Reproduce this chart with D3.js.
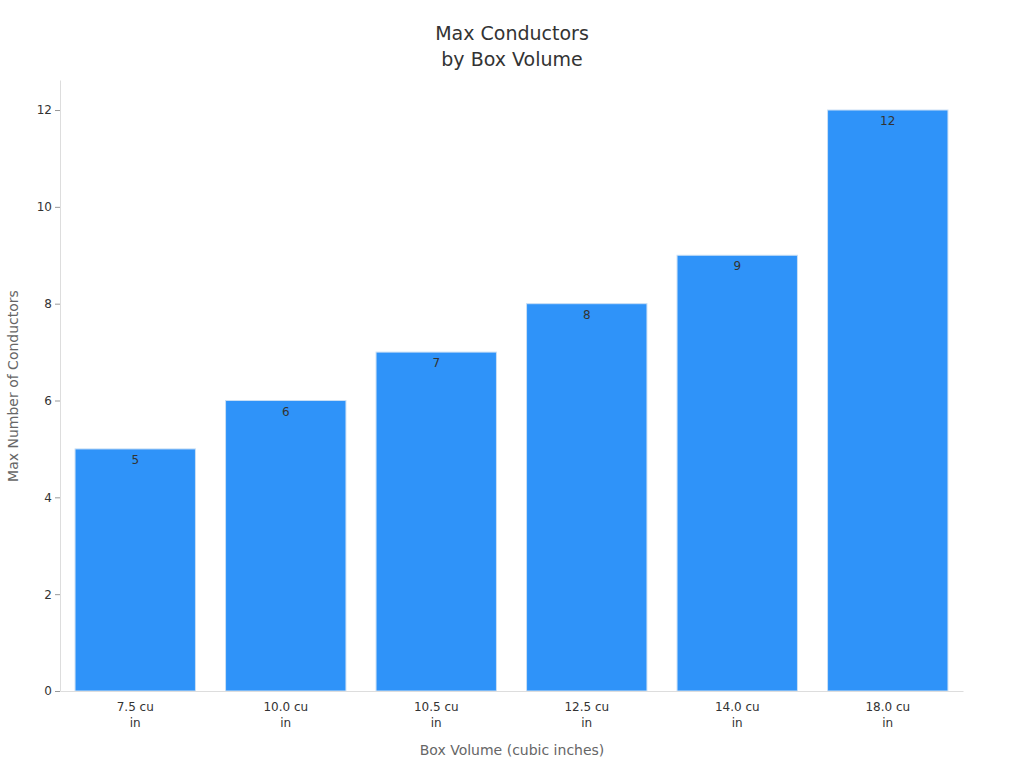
<!DOCTYPE html>
<html><head><meta charset="utf-8">
<script src="https://cdn.jsdelivr.net/npm/d3@7"></script>
<style>body{margin:0;background:#fff;font-family:"DejaVu Sans",sans-serif}</style>
</head><body><svg id="c" width="1024" height="768"></svg>
<script>
const categories = ["7.5 cu in","10.0 cu in","10.5 cu in","12.5 cu in","14.0 cu in","18.0 cu in"];
const values = [5,6,7,8,9,12];
const yTicks = [0,2,4,6,8,10,12];

const svg = d3.select("#c");
const m = {l:60, r:963, t:80, b:691};
const x = d3.scaleBand().domain(categories).range([m.l,m.r]).paddingInner(0.2).paddingOuter(0.1);
const y = d3.scaleLinear().domain([0,12.62]).range([m.b,m.t]);

svg.append("text").attr("x",512).attr("y",40).attr("text-anchor","middle").attr("font-size",19).attr("fill","#333").text("Max Conductors");
svg.append("text").attr("x",512).attr("y",66).attr("text-anchor","middle").attr("font-size",19).attr("fill","#333").text("by Box Volume");

svg.selectAll("rect.bar").data(values).join("rect")
  .attr("x",(d,i)=>x(categories[i])).attr("width",x.bandwidth())
  .attr("y",d=>y(d)).attr("height",d=>y(0)-y(d))
  .attr("fill","#2f93f9").attr("stroke","#c9dff5").attr("stroke-width",1);
svg.selectAll("text.val").data(values).join("text")
  .attr("x",(d,i)=>x(categories[i])+x.bandwidth()/2).attr("y",d=>y(d)+15)
  .attr("text-anchor","middle").attr("font-size",12).attr("fill","#333").text(d=>d);

const ya = svg.append("g").attr("transform",`translate(${m.l},0)`)
  .call(d3.axisLeft(y).tickValues(yTicks).tickSize(5).tickSizeOuter(0));
ya.select(".domain").attr("stroke","#ddd");
ya.selectAll(".tick line").attr("stroke","#999");
ya.selectAll("text").attr("font-size",12).attr("fill","#333").attr("font-family","DejaVu Sans");

const xa = svg.append("g").attr("transform",`translate(0,${m.b})`)
  .call(d3.axisBottom(x).tickSize(0).tickSizeOuter(0));
xa.select(".domain").attr("stroke","#ddd");
xa.selectAll(".tick text").remove();
xa.selectAll(".tick").each(function(d){
  const parts = d.split(" ");
  const t = d3.select(this).append("text").attr("text-anchor","middle")
    .attr("font-size",12).attr("fill","#333").attr("font-family","DejaVu Sans");
  t.append("tspan").attr("x",0).attr("y",20).text(parts[0]+" "+parts[1]);
  t.append("tspan").attr("x",0).attr("y",36).text(parts[2]);
});

svg.append("text").attr("x",512).attr("y",755).attr("text-anchor","middle").attr("font-size",14).attr("fill","#666").text("Box Volume (cubic inches)");
svg.append("text").attr("transform","translate(18,386) rotate(-90)").attr("text-anchor","middle").attr("font-size",14).attr("fill","#666").text("Max Number of Conductors");
</script></body></html>
